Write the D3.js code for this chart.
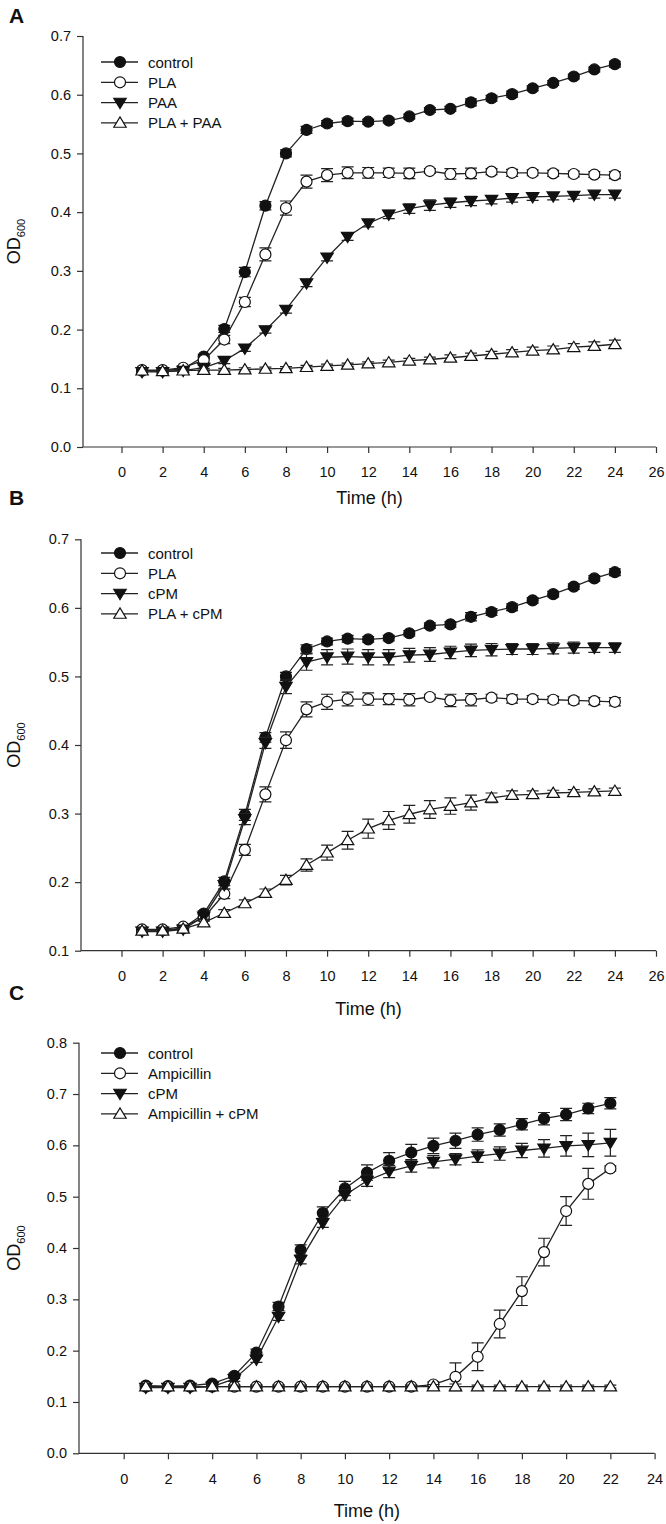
<!DOCTYPE html>
<html>
<head>
<meta charset="utf-8">
<script src="https://cdn.jsdelivr.net/npm/d3@7"></script>
<style>
  body { margin: 0; background: #fff; }
  svg text { font-family: "Liberation Sans", Arial, sans-serif; fill: #111; }
</style>
</head>
<body>
<div id="chart"></div>
<script>
// hours
const hoursAB = d3.range(1, 25);
const hoursC = d3.range(1, 23);

// panel A + B shared series
const control = [0.130,0.130,0.133,0.154,0.201,0.298,0.411,0.500,0.540,0.551,0.555,0.554,0.556,0.563,0.574,0.576,0.587,0.594,0.601,0.611,0.620,0.631,0.643,0.652];
const controlErr = [0.003,0.003,0.003,0.004,0.006,0.008,0.007,0.006,0.006,0.005,0.005,0.004,0.004,0.004,0.004,0.004,0.006,0.005,0.005,0.004,0.004,0.004,0.004,0.005];
const pla = [0.131,0.131,0.135,0.148,0.183,0.247,0.328,0.407,0.452,0.463,0.467,0.467,0.467,0.466,0.470,0.465,0.466,0.469,0.467,0.467,0.466,0.465,0.464,0.463];
const plaErr = [0.003,0.003,0.003,0.005,0.007,0.008,0.011,0.012,0.011,0.011,0.010,0.009,0.008,0.009,0.004,0.009,0.009,0.005,0.006,0.005,0.005,0.005,0.005,0.006];

// panel A
const paa = [0.128,0.128,0.130,0.135,0.147,0.168,0.199,0.234,0.279,0.323,0.358,0.381,0.396,0.406,0.412,0.416,0.419,0.421,0.424,0.426,0.427,0.428,0.430,0.430];
const paaErr = [0.003,0.003,0.003,0.004,0.005,0.005,0.005,0.006,0.006,0.006,0.006,0.006,0.007,0.008,0.009,0.008,0.008,0.007,0.007,0.006,0.006,0.006,0.006,0.006];
const plaPaa = [0.130,0.129,0.130,0.131,0.131,0.132,0.133,0.134,0.136,0.138,0.140,0.142,0.144,0.147,0.149,0.152,0.155,0.158,0.161,0.164,0.166,0.170,0.172,0.175];
const plaPaaErr = [0.003,0.003,0.003,0.003,0.003,0.003,0.003,0.003,0.003,0.003,0.003,0.003,0.004,0.004,0.004,0.005,0.005,0.005,0.005,0.006,0.006,0.006,0.007,0.007];

// panel B
const cpmB = [0.128,0.128,0.131,0.150,0.196,0.292,0.403,0.485,0.521,0.528,0.529,0.528,0.528,0.531,0.532,0.535,0.538,0.539,0.540,0.540,0.541,0.542,0.542,0.542];
const cpmBErr = [0.003,0.003,0.003,0.004,0.006,0.008,0.008,0.010,0.012,0.011,0.011,0.011,0.011,0.010,0.010,0.009,0.009,0.009,0.008,0.008,0.008,0.008,0.007,0.007];
const plaCpm = [0.129,0.129,0.132,0.141,0.155,0.169,0.184,0.203,0.225,0.243,0.261,0.278,0.290,0.299,0.306,0.311,0.316,0.323,0.327,0.328,0.330,0.331,0.332,0.333];
const plaCpmErr = [0.003,0.003,0.003,0.004,0.005,0.005,0.006,0.007,0.009,0.011,0.013,0.014,0.013,0.013,0.013,0.012,0.011,0.007,0.006,0.005,0.004,0.004,0.004,0.004];

// panel C
const controlC = [0.132,0.131,0.132,0.136,0.151,0.196,0.286,0.396,0.468,0.516,0.547,0.570,0.586,0.599,0.609,0.621,0.630,0.641,0.652,0.660,0.672,0.682];
const controlCErr = [0.003,0.003,0.003,0.004,0.005,0.007,0.008,0.010,0.012,0.014,0.015,0.016,0.016,0.015,0.015,0.013,0.012,0.011,0.012,0.012,0.010,0.011];
const amp = [0.130,0.130,0.130,0.130,0.130,0.130,0.130,0.130,0.130,0.130,0.130,0.130,0.130,0.134,0.149,0.188,0.252,0.316,0.392,0.472,0.525,0.555];
const ampErr = [0.003,0.003,0.003,0.003,0.003,0.003,0.003,0.003,0.003,0.003,0.003,0.003,0.003,0.005,0.027,0.027,0.027,0.028,0.027,0.028,0.030,0.005];
const cpmC = [0.128,0.128,0.128,0.130,0.145,0.183,0.266,0.377,0.449,0.503,0.531,0.549,0.560,0.568,0.573,0.579,0.584,0.590,0.594,0.599,0.601,0.605];
const cpmCErr = [0.003,0.003,0.003,0.004,0.005,0.006,0.007,0.008,0.009,0.010,0.011,0.012,0.012,0.012,0.011,0.012,0.013,0.014,0.017,0.020,0.023,0.026];
const ampCpm = [0.130,0.130,0.130,0.130,0.130,0.130,0.130,0.130,0.130,0.130,0.130,0.130,0.130,0.130,0.130,0.130,0.130,0.130,0.130,0.130,0.130,0.130];
const ampCpmErr = [0.003,0.003,0.003,0.003,0.003,0.003,0.003,0.003,0.003,0.003,0.003,0.003,0.003,0.004,0.005,0.003,0.003,0.003,0.003,0.003,0.003,0.003];

const xTicksAB = d3.range(0, 27, 2);
const xTicksC = d3.range(0, 25, 2);
const yTicksA = d3.range(0, 0.71, 0.1);
const yTicksB = d3.range(0.1, 0.71, 0.1);
const yTicksC = d3.range(0, 0.81, 0.1);

const labelsA = ["control", "PLA", "PAA", "PLA + PAA"];
const labelsB = ["control", "PLA", "cPM", "PLA + cPM"];
const labelsC = ["control", "Ampicillin", "cPM", "Ampicillin + cPM"];

const markers = ["circleFilled", "circleOpen", "triDown", "triUp"];

const svg = d3.select("#chart").append("svg")
  .attr("width", 666)
  .attr("height", 1524);

function drawMarker(g, type, cx, cy) {
  const stroke = "#111";
  if (type === "circleFilled" || type === "circleOpen") {
    g.append("circle")
      .attr("cx", cx).attr("cy", cy).attr("r", 5.5)
      .attr("fill", type === "circleFilled" ? "#111" : "#fff")
      .attr("stroke", stroke).attr("stroke-width", 1.2);
  } else {
    const s = 6.2;
    const pts = type === "triDown"
      ? [[cx - s, cy - s * 0.7], [cx + s, cy - s * 0.7], [cx, cy + s * 0.95]]
      : [[cx - s, cy + s * 0.7], [cx + s, cy + s * 0.7], [cx, cy - s * 0.95]];
    g.append("path")
      .attr("d", d3.line()(pts) + "Z")
      .attr("fill", type === "triDown" ? "#111" : "#fff")
      .attr("stroke", stroke).attr("stroke-width", 1.2);
  }
}

function drawPanel(p) {
  const g = svg.append("g");
  const x = d3.scaleLinear().domain(p.xDomain).range(p.xRange);
  const y = d3.scaleLinear().domain(p.yDomain).range(p.yRange);

  // y axis
  const yAxis = g.append("g")
    .attr("transform", `translate(${p.axisX},0)`)
    .call(d3.axisLeft(y).tickValues(p.yTicks).tickFormat(d3.format(".1f")).tickSize(6).tickPadding(6));
  // x axis
  const xAxis = g.append("g")
    .attr("transform", `translate(0,${p.yRange[0]})`)
    .call(d3.axisBottom(x).tickValues(p.xTicks).tickFormat(d3.format("d")).tickSize(6).tickPadding(14));
  [yAxis, xAxis].forEach(a => {
    a.select(".domain").remove();
    a.selectAll("line").attr("stroke", "#333").attr("stroke-width", 1.2);
    a.selectAll("text").style("font-size", "14.5px").attr("fill", "#111");
  });
  g.append("path")
    .attr("d", `M${p.axisX},${p.yRange[1]}V${p.yRange[0]}H${p.xRange[1]}`)
    .attr("fill", "none").attr("stroke", "#333").attr("stroke-width", 1.2);

  // axis titles
  g.append("text")
    .attr("x", (p.axisX + p.xRange[1]) / 2)
    .attr("y", p.yRange[0] + p.timeDy)
    .attr("text-anchor", "middle")
    .style("font-size", "18px")
    .text("Time (h)");
  const od = g.append("text")
    .attr("transform", `translate(20,${(p.yRange[0] + p.yRange[1]) / 2}) rotate(-90)`)
    .attr("text-anchor", "middle")
    .style("font-size", "18px");
  od.append("tspan").text("OD");
  od.append("tspan").attr("dy", 5).style("font-size", "11px").text("600");

  // panel letter
  g.append("text")
    .attr("x", 9).attr("y", p.letterY)
    .style("font-size", "21px").style("font-weight", "bold")
    .text(p.letter);

  // series
  p.series.forEach((s, i) => {
    const sg = g.append("g");
    const pts = p.hours.map((h, j) => ({ h, v: s.values[j], e: s.errors[j] }));
    sg.append("path")
      .datum(pts)
      .attr("fill", "none")
      .attr("stroke", "#222")
      .attr("stroke-width", 1.3)
      .attr("d", d3.line().x(d => x(d.h)).y(d => y(d.v)));
    pts.forEach(d => {
      const cx = x(d.h);
      const y1 = y(d.v + d.e), y2 = y(d.v - d.e);
      sg.append("path")
        .attr("d", `M${cx},${y1}V${y2}M${cx - 6},${y1}H${cx + 6}M${cx - 6},${y2}H${cx + 6}`)
        .attr("stroke", "#222").attr("stroke-width", 1.2).attr("fill", "none");
    });
    pts.forEach(d => drawMarker(sg, markers[i], x(d.h), y(d.v)));
  });

  // legend
  p.labels.forEach((lab, i) => {
    const ly = p.legendY + i * 20.3;
    g.append("line")
      .attr("x1", 101).attr("x2", 138).attr("y1", ly).attr("y2", ly)
      .attr("stroke", "#222").attr("stroke-width", 1.3);
    drawMarker(g, markers[i], 120, ly);
    g.append("text")
      .attr("x", 148).attr("y", ly + 5.5)
      .style("font-size", "15px")
      .text(lab);
  });
}

drawPanel({
  letter: "A", letterY: 23,
  hours: hoursAB,
  xDomain: [0, 26], xRange: [121.5, 656], xTicks: xTicksAB,
  yDomain: [0, 0.7], yRange: [447, 36], yTicks: yTicksA,
  axisX: 83, timeDy: 57, legendY: 62,
  labels: labelsA,
  series: [
    { values: control, errors: controlErr },
    { values: pla, errors: plaErr },
    { values: paa, errors: paaErr },
    { values: plaPaa, errors: plaPaaErr }
  ]
});

drawPanel({
  letter: "B", letterY: 505,
  hours: hoursAB,
  xDomain: [0, 26], xRange: [121.5, 656], xTicks: xTicksAB,
  yDomain: [0.1, 0.7], yRange: [950.7, 539.3], yTicks: yTicksB,
  axisX: 81, timeDy: 64, legendY: 553,
  labels: labelsB,
  series: [
    { values: control, errors: controlErr },
    { values: pla, errors: plaErr },
    { values: cpmB, errors: cpmBErr },
    { values: plaCpm, errors: plaCpmErr }
  ]
});

drawPanel({
  letter: "C", letterY: 1000,
  hours: hoursC,
  xDomain: [0, 24], xRange: [123.7, 654.6], xTicks: xTicksC,
  yDomain: [0, 0.8], yRange: [1453.3, 1042.7], yTicks: yTicksC,
  axisX: 79, timeDy: 64, legendY: 1053,
  labels: labelsC,
  series: [
    { values: controlC, errors: controlCErr },
    { values: amp, errors: ampErr },
    { values: cpmC, errors: cpmCErr },
    { values: ampCpm, errors: ampCpmErr }
  ]
});
</script>
</body>
</html>
